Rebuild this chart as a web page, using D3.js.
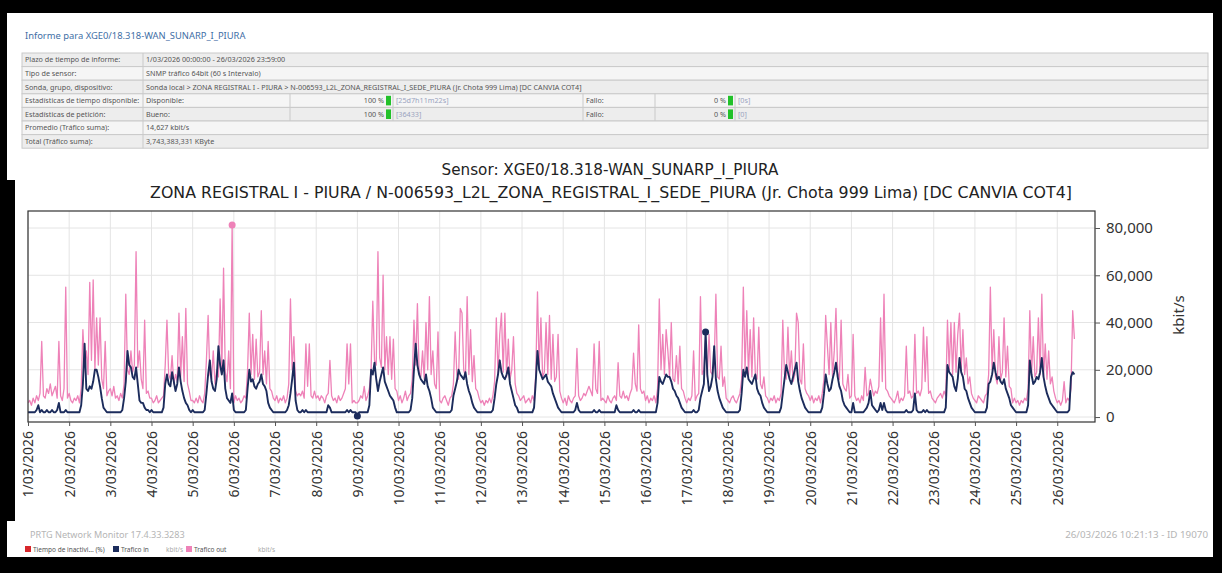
<!DOCTYPE html>
<html>
<head>
<meta charset="utf-8">
<script src="https://cdn.jsdelivr.net/npm/d3@7"></script>
<style>
  body { margin: 0; background: #000; }
  svg { display: block; }
</style>
</head>
<body>
<svg id="chart" width="1222" height="573"></svg>
<script>
// ---- data -------------------------------------------------------------
const reportTitle = 'Informe para XGE0/18.318-WAN_SUNARP_I_PIURA';
const chartTitle = 'Sensor: XGE0/18.318-WAN_SUNARP_I_PIURA';
const chartSubtitle = 'ZONA REGISTRAL I - PIURA / N-006593_L2L_ZONA_REGISTRAL_I_SEDE_PIURA (Jr. Chota 999 Lima) [DC CANVIA COT4]';

const infoRows = [
	['Plazo de tiempo de informe:', '1/03/2026 00:00:00 - 26/03/2026 23:59:00'],
	['Tipo de sensor:', 'SNMP tráfico 64bit (60 s Intervalo)'],
	['Sonda, grupo, dispositivo:', 'Sonda local > ZONA REGISTRAL I - PIURA > N-006593_L2L_ZONA_REGISTRAL_I_SEDE_PIURA (Jr. Chota 999 Lima) [DC CANVIA COT4]']
];
const statRows = [
	['Estadísticas de tiempo disponible:', 'Disponible:', '100 %', '[25d7h11m22s]', 'Fallo:', '0 %', '[0s]'],
	['Estadísticas de petición:', 'Bueno:', '100 %', '[36433]', 'Fallo:', '0 %', '[0]']
];
const totalRows = [
	['Promedio (Tráfico suma):', '14,627 kbit/s'],
	['Total (Tráfico suma):', '3,743,383,331 KByte']
];

const yTicks = [0, 20000, 40000, 60000, 80000];
const yUnit = 'kbit/s';

// hourly samples from 1/03/2026 00:00, in thousands of kbit/s
const stepHours = 1;
const trafficOut = [
	6, 7, 5, 8, 6, 9, 7, 10, 32, 9, 8, 12, 10, 14, 9, 11, 13, 8, 32, 9, 7, 12, 55, 8,          // 1/03
	10, 7, 6, 8, 7, 9, 6, 12, 37, 22, 28, 18, 57, 24, 58, 20, 42, 22, 42, 16, 12, 32, 9, 11,   // 2/03
	12, 9, 13, 8, 9, 7, 10, 8, 14, 52, 20, 18, 28, 19, 22, 70, 21, 28, 16, 12, 41, 10, 11, 8,  // 3/03
	8, 6, 7, 9, 6, 7, 8, 9, 22, 41, 18, 16, 26, 14, 18, 15, 44, 17, 34, 15, 46, 14, 11, 7,     // 4/03
	7, 6, 8, 6, 9, 7, 6, 10, 24, 43, 18, 16, 28, 14, 20, 17, 50, 20, 63, 19, 15, 28, 12, 81.3, // 5/03
	6, 9, 7, 8, 6, 7, 9, 8, 20, 44, 18, 35, 16, 33, 17, 19, 45, 18, 28, 14, 32, 12, 11, 8,     // 6/03
	7, 9, 6, 8, 7, 9, 6, 8, 14, 50, 20, 34, 11, 9, 10, 9, 11, 8, 31, 13, 31, 9, 8, 11,         // 7/03
	8, 9, 7, 9, 8, 6, 9, 10, 24, 9, 7, 8, 6, 9, 7, 8, 10, 12, 31, 14, 31, 6, 7, 6,             // 8/03
	6, 7, 9, 8, 13, 7, 9, 12, 20, 49, 24, 22, 70, 25, 21, 60, 20, 34, 18, 34, 16, 33, 12, 11,  // 9/03
	7, 9, 6, 8, 11, 7, 9, 10, 16, 41, 22, 48, 19, 17, 28, 16, 40, 20, 51, 18, 28, 14, 12, 36,  // 10/03
	7, 6, 8, 9, 7, 5, 8, 9, 14, 36, 18, 16, 46, 44, 20, 17, 51, 18, 37, 15, 26, 12, 11, 8,     // 11/03
	6, 7, 5, 7, 6, 8, 6, 9, 15, 42, 18, 35, 44, 19, 44, 17, 33, 16, 20, 34, 14, 10, 9, 7,      // 12/03
	8, 9, 6, 7, 8, 6, 9, 7, 18, 53, 20, 42, 17, 19, 40, 18, 43, 16, 35, 15, 17, 35, 11, 8,     // 13/03
	6, 8, 5, 9, 7, 6, 8, 9, 29, 9, 7, 8, 10, 9, 11, 13, 11, 9, 31, 12, 10, 32, 7, 8,           // 14/03
	7, 6, 9, 7, 6, 8, 9, 7, 23, 9, 8, 11, 8, 9, 7, 10, 12, 27, 14, 11, 39, 12, 10, 11,         // 15/03
	7, 9, 6, 8, 7, 9, 6, 12, 50, 20, 35, 18, 37, 28, 17, 40, 16, 15, 26, 14, 30, 12, 11, 8,    // 16/03
	6, 8, 7, 9, 28, 7, 9, 10, 51, 18, 20, 34, 17, 35, 19, 18, 22, 52, 17, 16, 30, 13, 17, 8,   // 17/03
	7, 6, 8, 9, 7, 6, 8, 10, 16, 55, 20, 45, 18, 37, 17, 42, 18, 16, 38, 14, 12, 17, 9, 8,     // 18/03
	6, 8, 7, 9, 6, 8, 7, 10, 41, 18, 16, 38, 17, 28, 15, 18, 44, 40, 16, 14, 31, 12, 10, 9,    // 19/03
	7, 9, 6, 8, 7, 9, 6, 10, 16, 43, 30, 18, 40, 17, 28, 46, 19, 16, 41, 14, 12, 11, 18, 8,    // 20/03
	9, 35, 9, 7, 8, 6, 9, 7, 21, 9, 10, 16, 12, 9, 11, 10, 13, 42, 15, 52, 12, 11, 9, 8,       // 21/03
	7, 6, 8, 11, 6, 8, 7, 9, 30, 10, 11, 8, 9, 35, 10, 11, 9, 12, 38, 15, 34, 10, 11, 8,       // 22/03
	7, 6, 8, 9, 10, 8, 11, 9, 41, 20, 40, 18, 40, 19, 35, 44, 20, 37, 18, 25, 14, 17, 10, 8,   // 23/03
	7, 6, 9, 8, 7, 6, 9, 10, 18, 55, 20, 37, 17, 14, 34, 16, 19, 42, 17, 30, 13, 12, 6, 8,     // 24/03
	6, 7, 5, 7, 6, 8, 7, 12, 45, 18, 34, 17, 19, 42, 18, 52, 17, 31, 16, 28, 14, 17, 11, 8,    // 25/03
	6, 7, 5, 7, 15, 6, 8, 7, 12, 45, 33                                                        // 26/03
];
const trafficIn = [
	2, 2, 2, 2, 2, 3, 5, 2, 3, 2, 2, 3, 2, 2, 3, 2, 2, 3, 6, 2, 2, 2, 3, 2,                   // 1/03
	2, 2, 2, 2, 2, 2, 2, 5, 14, 31, 12, 11, 13, 12, 15, 20, 20, 17, 13, 8, 4, 3, 2, 2,         // 2/03
	2, 2, 2, 2, 2, 2, 2, 3, 8, 15, 28, 22, 21, 17, 16, 21, 14, 7, 6, 6, 4, 3, 3, 2,            // 3/03
	3, 2, 2, 2, 2, 2, 2, 4, 14, 18, 14, 13, 19, 15, 11, 14, 21, 15, 11, 8, 6, 5, 3, 2,         // 4/03
	3, 2, 2, 2, 2, 2, 2, 3, 10, 18, 24, 15, 12, 11, 16, 30, 22, 18, 24, 12, 8, 7, 6, 10,       // 5/03
	3, 2, 2, 2, 2, 2, 2, 3, 12, 20, 15, 16, 13, 12, 14, 15, 18, 14, 13, 11, 6, 4, 3, 2,        // 6/03
	2, 2, 2, 2, 2, 2, 2, 3, 5, 10, 16, 23, 7, 3, 2, 2, 3, 2, 3, 2, 2, 2, 2, 2,                 // 7/03
	2, 2, 2, 2, 2, 2, 2, 5, 4, 2, 2, 2, 2, 2, 2, 2, 2, 2, 3, 2, 3, 2, 2, 2,                    // 8/03
	0.4, 2, 2, 2, 2, 2, 2, 5, 20, 18, 23, 16, 11, 15, 18, 21, 15, 13, 11, 9, 8, 7, 4, 2,       // 9/03
	2, 2, 2, 2, 2, 2, 2, 3, 8, 20, 31, 22, 18, 16, 15, 14, 18, 13, 11, 8, 4, 3, 2, 2,          // 10/03
	2, 2, 2, 2, 2, 2, 2, 3, 9, 12, 15, 20, 18, 17, 16, 19, 14, 11, 9, 6, 4, 3, 2, 2,           // 11/03
	2, 2, 2, 2, 2, 2, 2, 3, 8, 14, 18, 24, 19, 17, 16, 18, 21, 14, 11, 8, 5, 4, 2, 2,          // 12/03
	2, 2, 2, 2, 2, 2, 2, 4, 15, 28, 20, 18, 16, 17, 18, 15, 14, 13, 10, 8, 6, 4, 3, 2,         // 13/03
	2, 2, 2, 2, 2, 2, 2, 3, 6, 3, 2, 2, 2, 2, 2, 2, 2, 2, 3, 2, 2, 3, 2, 2,                    // 14/03
	2, 2, 2, 2, 2, 2, 2, 5, 3, 2, 2, 2, 2, 2, 2, 2, 2, 3, 2, 2, 3, 2, 2, 2,                    // 15/03
	2, 2, 2, 2, 2, 2, 2, 6, 17, 15, 14, 16, 18, 17, 17, 15, 12, 11, 9, 8, 6, 4, 3, 2,          // 16/03
	2, 2, 2, 2, 3, 2, 2, 3, 8, 11, 14, 36, 18, 11, 13, 17, 30, 16, 11, 8, 6, 4, 3, 2,          // 17/03
	2, 2, 2, 2, 2, 2, 2, 3, 10, 20, 17, 21, 16, 15, 14, 16, 18, 12, 10, 9, 6, 4, 3, 2,         // 18/03
	2, 2, 2, 2, 2, 2, 2, 4, 10, 16, 22, 19, 16, 14, 17, 20, 23, 15, 11, 8, 6, 4, 3, 2,         // 19/03
	2, 2, 2, 2, 2, 2, 2, 4, 10, 18, 14, 11, 12, 16, 19, 23, 17, 13, 11, 7, 5, 4, 3, 2,         // 20/03
	2, 6, 2, 2, 2, 2, 2, 2, 3, 4, 6, 11, 5, 4, 3, 2, 3, 6, 3, 6, 3, 2, 2, 2,                   // 21/03
	2, 2, 2, 2, 2, 2, 2, 2, 3, 2, 2, 2, 3, 10, 3, 2, 2, 2, 3, 2, 3, 2, 2, 2,                   // 22/03
	2, 2, 2, 2, 2, 2, 2, 4, 22, 19, 18, 17, 13, 11, 16, 25, 19, 17, 12, 11, 8, 6, 4, 3,        // 23/03
	2, 2, 2, 2, 2, 2, 2, 4, 14, 15, 18, 23, 19, 16, 17, 15, 14, 16, 12, 10, 8, 5, 4, 3,        // 24/03
	2, 2, 2, 2, 2, 2, 2, 5, 24, 18, 14, 15, 17, 16, 19, 25, 17, 13, 10, 8, 6, 5, 4, 3,         // 25/03
	2, 2, 2, 2, 2, 2, 2, 3, 17, 19, 18                                                         // 26/03
];

const legendNames = ['Tiempo de inactivi... (%)', 'Trafico in', 'Trafico out'];
const legendUnits = ['', 'kbit/s', 'kbit/s'];
const legendColors = ['#d7262b', '#1c2c5c', '#ee82b8'];
const footerLeft = 'PRTG Network Monitor 17.4.33.3283';
const footerRight = '26/03/2026 10:21:13 - ID 19070';

// ---- drawing ----------------------------------------------------------
const svg = d3.select('#chart');
const font = '"Noto Sans", "DejaVu Sans", sans-serif';
const titleFont = '"DejaVu Sans", "Noto Sans", sans-serif';

svg.append('rect').attr('width', 1222).attr('height', 573).attr('fill', '#000');
svg.append('rect')
	.attr('x', 7).attr('y', 13).attr('width', 1206).attr('height', 544)
	.attr('fill', '#fff');
// the screenshot's left edge is cut deeper around the plot
svg.append('rect')
	.attr('x', 7).attr('y', 180).attr('width', 8).attr('height', 341)
	.attr('fill', '#000');

// report header
svg.append('text')
	.attr('x', 25).attr('y', 39)
	.attr('font-family', font).attr('font-size', 9.4)
	.attr('fill', '#3f6fa6')
	.text(reportTitle);

const table = { left: 22, right: 1208, top: 53, rowH: 13.6, col1: 143 } ;
const statCols = [143, 290, 393, 583, 655, 735] ;
const allRows = [
	...infoRows.map(r => ({ kind: 'info', cells: r })),
	...statRows.map(r => ({ kind: 'stat', cells: r })),
	...totalRows.map(r => ({ kind: 'info', cells: r }))
];

const tg = svg.append('g').attr('font-family', font).attr('font-size', 7.2).attr('fill', '#555');
allRows.forEach((row, i) => {
	const y0 = table.top + i * table.rowH ;
	tg.append('rect')
		.attr('x', table.left).attr('y', y0)
		.attr('width', table.right - table.left).attr('height', table.rowH)
		.attr('fill', i % 2 ? '#f5f5f5' : '#ededed')
		.attr('stroke', '#c9c9c9').attr('stroke-width', 1) ;
	const ty = y0 + table.rowH / 2 + 2.5 ;
	const cols = row.kind === 'stat' ? statCols : [table.col1] ;
	cols.forEach(cx => {
		tg.append('line')
			.attr('x1', cx).attr('x2', cx).attr('y1', y0).attr('y2', y0 + table.rowH)
			.attr('stroke', '#c9c9c9') ;
	}) ;
	tg.append('text').attr('x', table.left + 3).attr('y', ty).text(row.cells[0]) ;
	if( row.kind === 'info' ) {
		tg.append('text').attr('x', table.col1 + 3).attr('y', ty).text(row.cells[1]) ;
	} else {
		const c = row.cells ;
		tg.append('text').attr('x', statCols[0] + 3).attr('y', ty).text(c[1]) ;
		tg.append('text').attr('x', statCols[2] - 9).attr('y', ty).attr('text-anchor', 'end').text(c[2]) ;
		tg.append('rect').attr('x', statCols[2] - 7).attr('y', y0 + 2).attr('width', 5).attr('height', table.rowH - 4).attr('fill', '#22c12a') ;
		tg.append('text').attr('x', statCols[2] + 3).attr('y', ty).attr('fill', '#9aa3c0').text(c[3]) ;
		tg.append('text').attr('x', statCols[3] + 3).attr('y', ty).text(c[4]) ;
		tg.append('text').attr('x', statCols[5] - 9).attr('y', ty).attr('text-anchor', 'end').text(c[5]) ;
		tg.append('rect').attr('x', statCols[5] - 7).attr('y', y0 + 2).attr('width', 5).attr('height', table.rowH - 4).attr('fill', '#22c12a') ;
		tg.append('text').attr('x', statCols[5] + 3).attr('y', ty).attr('fill', '#9aa3c0').text(c[6]) ;
	}
}) ;

// chart titles
svg.append('text')
	.attr('x', 610).attr('y', 175).attr('text-anchor', 'middle')
	.attr('font-family', titleFont).attr('font-size', 15.2).attr('fill', '#222')
	.text(chartTitle) ;
svg.append('text')
	.attr('x', 611).attr('y', 198).attr('text-anchor', 'middle')
	.attr('font-family', titleFont).attr('font-size', 15.8).attr('fill', '#222')
	.text(chartSubtitle) ;

// plot
const plot = { left: 28, right: 1095, top: 211, bottom: 422 } ;
const start = new Date(2026, 2, 1) ;
const rows = trafficOut.map((v, i) => ({
	t: d3.timeHour.offset(start, i * stepHours),
	out: v * 1000,
	inn: trafficIn[i] * 1000
})) ;

const x = d3.scaleTime()
	.domain([start, new Date(2026, 2, 26, 22)])
	.range([plot.left, plot.right]) ;
const y = d3.scaleLinear()
	.domain([-2100, 87200])
	.range([plot.bottom, plot.top]) ;
const dayTicks = d3.timeDay.range(start, new Date(2026, 2, 27)) ;

const grid = svg.append('g').attr('stroke', '#e4e4e4').attr('stroke-width', 1) ;
grid.selectAll('line.v').data(dayTicks).join('line')
	.attr('class', 'v')
	.attr('x1', d => x(d)).attr('x2', d => x(d))
	.attr('y1', plot.top).attr('y2', plot.bottom) ;
grid.selectAll('line.h').data(yTicks).join('line')
	.attr('class', 'h')
	.attr('x1', plot.left).attr('x2', plot.right)
	.attr('y1', d => y(d)).attr('y2', d => y(d)) ;

svg.append('clipPath').attr('id', 'plotclip')
	.append('rect')
	.attr('x', plot.left).attr('y', plot.top)
	.attr('width', plot.right - plot.left).attr('height', plot.bottom - plot.top) ;

const lineOut = d3.line().x(d => x(d.t)).y(d => y(d.out)) ;
const lineIn = d3.line().x(d => x(d.t)).y(d => y(d.inn)) ;

const lines = svg.append('g').attr('clip-path', 'url(#plotclip)') ;
lines.append('path').datum(rows)
	.attr('d', lineOut).attr('fill', 'none')
	.attr('stroke', legendColors[2]).attr('stroke-width', 1.3).attr('stroke-linejoin', 'round') ;
lines.append('path').datum(rows)
	.attr('d', lineIn).attr('fill', 'none')
	.attr('stroke', legendColors[1]).attr('stroke-width', 1.9).attr('stroke-linejoin', 'round') ;

// min / max markers
const maxOut = rows.reduce((a, b) => b.out > a.out ? b : a) ;
const maxIn = rows.reduce((a, b) => b.inn > a.inn ? b : a) ;
const minIn = rows.reduce((a, b) => b.inn < a.inn ? b : a) ;
lines.append('circle').attr('cx', x(maxOut.t)).attr('cy', y(maxOut.out)).attr('r', 3.5).attr('fill', legendColors[2]) ;
lines.append('circle').attr('cx', x(maxIn.t)).attr('cy', y(maxIn.inn)).attr('r', 3.5).attr('fill', legendColors[1]) ;
lines.append('circle').attr('cx', x(minIn.t)).attr('cy', y(minIn.inn)).attr('r', 3.5).attr('fill', legendColors[1]) ;

svg.append('rect')
	.attr('x', plot.left).attr('y', plot.top)
	.attr('width', plot.right - plot.left).attr('height', plot.bottom - plot.top)
	.attr('fill', 'none').attr('stroke', '#333').attr('stroke-width', 1.2) ;

// axes
const xAxis = svg.append('g')
	.attr('transform', 'translate(0,' + plot.bottom + ')')
	.call(d3.axisBottom(x).tickValues(dayTicks).tickFormat(d3.timeFormat('%-d/%m/%Y')).tickSize(4)) ;
xAxis.select('.domain').remove() ;
xAxis.selectAll('line').attr('stroke', '#555') ;
xAxis.selectAll('text')
	.attr('font-family', font).attr('font-size', 14).attr('fill', '#333')
	.attr('transform', 'rotate(-90)')
	.attr('text-anchor', 'end')
	.attr('x', -9).attr('y', 0).attr('dy', '0.35em') ;

const yAxis = svg.append('g')
	.attr('transform', 'translate(' + plot.right + ',0)')
	.call(d3.axisRight(y).tickValues(yTicks).tickFormat(d3.format(',')).tickSize(5).tickPadding(6)) ;
yAxis.select('.domain').remove() ;
yAxis.selectAll('line').attr('stroke', '#555') ;
yAxis.selectAll('text').attr('font-family', font).attr('font-size', 15).attr('fill', '#333') ;

svg.append('text')
	.attr('transform', 'translate(1184,315) rotate(-90)')
	.attr('text-anchor', 'middle')
	.attr('font-family', font).attr('font-size', 15).attr('fill', '#333')
	.text(yUnit) ;

// footer
svg.append('text')
	.attr('x', 30).attr('y', 538)
	.attr('font-family', font).attr('font-size', 9.1).attr('fill', '#b5b5b5')
	.text(footerLeft) ;
svg.append('text')
	.attr('x', 1208).attr('y', 538).attr('text-anchor', 'end')
	.attr('font-family', font).attr('font-size', 9.8).attr('fill', '#b5b5b5')
	.text(footerRight) ;

const legendX = [25, 113, 186] ;
const unitX = [0, 166, 258] ;
const lg = svg.append('g').attr('font-family', font).attr('font-size', 6.5).attr('fill', '#555') ;
legendNames.forEach((name, i) => {
	lg.append('rect').attr('x', legendX[i]).attr('y', 546).attr('width', 6).attr('height', 6).attr('fill', legendColors[i]) ;
	lg.append('text').attr('x', legendX[i] + 8).attr('y', 552).text(name) ;
	if( legendUnits[i] ) {
		lg.append('text').attr('x', unitX[i]).attr('y', 552).attr('fill', '#aaa').text(legendUnits[i]) ;
	}
}) ;
</script>
</body>
</html>
